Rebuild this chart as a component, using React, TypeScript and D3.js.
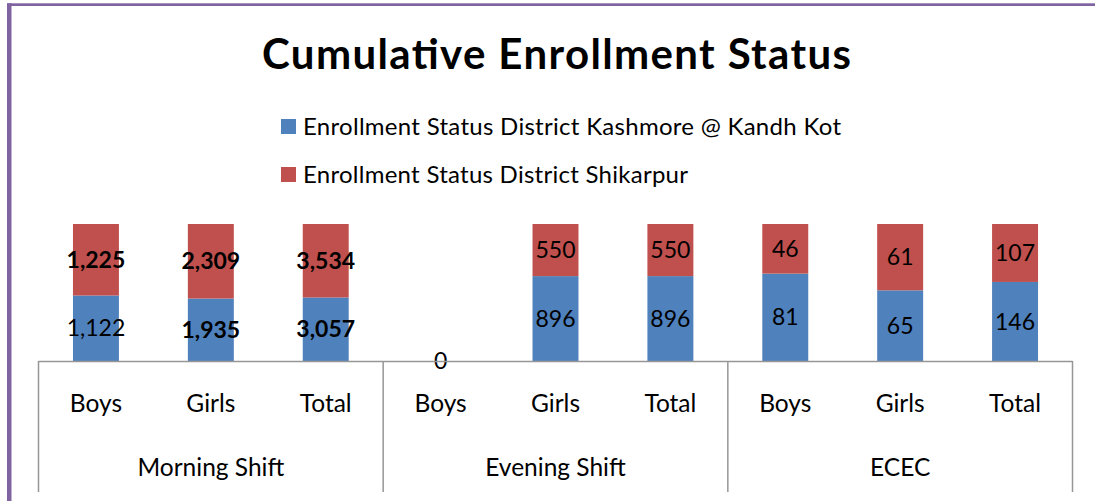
import React from "react";
import * as d3 from "d3";

const groups = ["Morning Shift", "Evening Shift", "ECEC"];
const subCategories = ["Boys", "Girls", "Total"];
const seriesNames = [
  "Enrollment Status District Kashmore @ Kandh Kot",
  "Enrollment Status District Shikarpur",
];
const kashmore = [1122, 1935, 3057, 0, 896, 896, 81, 65, 146];
const shikarpur = [1225, 2309, 3534, 0, 550, 550, 46, 61, 107];
const kashmoreBold = [false, true, true, false, false, false, false, false, false];
const shikarpurBold = [true, true, true, false, false, false, false, false, false];

const W = 1095;
const H = 501;
const FONT = "Lato, 'Open Sans', sans-serif";
const colors = ["#4F81BD", "#C0504D"];

export default function App() {
  const keys = groups.flatMap((g) => subCategories.map((s) => `${g}|${s}`));
  const rows = keys.map((k, i) => ({ key: k, a: kashmore[i], b: shikarpur[i] }));
  const stack = d3.stack<any>().keys(["a", "b"]).offset(d3.stackOffsetExpand);
  const stacked = stack(rows);

  const left = 38.5;
  const right = 1072.5;
  const baseY = 361;
  const topY = 224;

  const x = d3.scaleBand().domain(keys).range([left, right]).paddingInner(0.6).paddingOuter(0.3);
  const y = d3.scaleLinear().domain([0, 1]).range([baseY, topY]);
  const groupX = d3.scaleBand().domain(groups).range([left, right]);

  const boldSets = [kashmoreBold, shikarpurBold];
  const valueSets = [kashmore, shikarpur];
  const fmt = d3.format(",");
  const legendWidths = [538, 385];

  return (
    <svg width={W} height={H} style={{ position: "absolute", left: 0, top: 0, background: "#fff" }}>
      <rect x={0} y={0} width={W} height={H} fill="#fff" />
      {/* frame */}
      <rect x={7} y={3.3} width={W} height={2.7} fill="#8064A2" />
      <rect x={7} y={3.3} width={4.5} height={H} fill="#8064A2" />

      <text
        x={262}
        y={69}
        fontFamily={FONT}
        fontWeight="bold"
        fontSize={42}
        textLength={589}
        lengthAdjust="spacing"
        fill="#000"
      >
        Cumulative Enrollment Status
      </text>

      {seriesNames.map((n, i) => (
        <g key={n}>
          <rect x={281} y={119 + i * 48} width={15} height={15} fill={colors[i]} />
          <text
            x={303}
            y={134.5 + i * 48}
            fontFamily={FONT}
            fontSize={24}
            textLength={legendWidths[i]}
            lengthAdjust="spacing"
            fill="#000"
          >
            {n}
          </text>
        </g>
      ))}

      {stacked.map((s, si) => (
        <g key={si} fill={colors[si]}>
          {s.map((d, i) => {
            const h = y(d[0]) - y(d[1]);
            if (!(h > 0)) return null;
            return <rect key={i} x={x(keys[i])!} y={y(d[1])} width={x.bandwidth()} height={h} />;
          })}
        </g>
      ))}

      {stacked.map((s, si) =>
        s.map((d, i) => {
          const v = valueSets[si][i];
          const cx = x(keys[i])! + x.bandwidth() / 2;
          const cy = (y(d[0]) + y(d[1])) / 2;
          if (v === 0 && si === 1) return null;
          return (
            <text
              key={`${si}-${i}`}
              x={cx}
              y={cy}
              dy="0.35em"
              textAnchor="middle"
              fontFamily={FONT}
              fontSize={23}
              fontWeight={boldSets[si][i] ? "bold" : "normal"}
              fill="#000"
            >
              {fmt(v)}
            </text>
          );
        })
      )}

      {/* axis */}
      <line x1={left} x2={right} y1={baseY + 0.5} y2={baseY + 0.5} stroke="#969696" strokeWidth={1.5} />
      {[...groups.map((g) => groupX(g)!), right].map((gx, i) => (
        <line key={i} x1={gx} x2={gx} y1={baseY} y2={492} stroke="#969696" strokeWidth={1.5} />
      ))}
      {keys.map((k, i) => (
        <text
          key={k}
          x={x(k)! + x.bandwidth() / 2}
          y={412}
          textAnchor="middle"
          fontFamily={FONT}
          fontSize={24.5}
          fill="#000"
        >
          {subCategories[i % 3]}
        </text>
      ))}
      {groups.map((g) => (
        <text
          key={g}
          x={groupX(g)! + groupX.bandwidth() / 2}
          y={476}
          textAnchor="middle"
          fontFamily={FONT}
          fontSize={24.5}
          fill="#000"
        >
          {g}
        </text>
      ))}
    </svg>
  );
}
